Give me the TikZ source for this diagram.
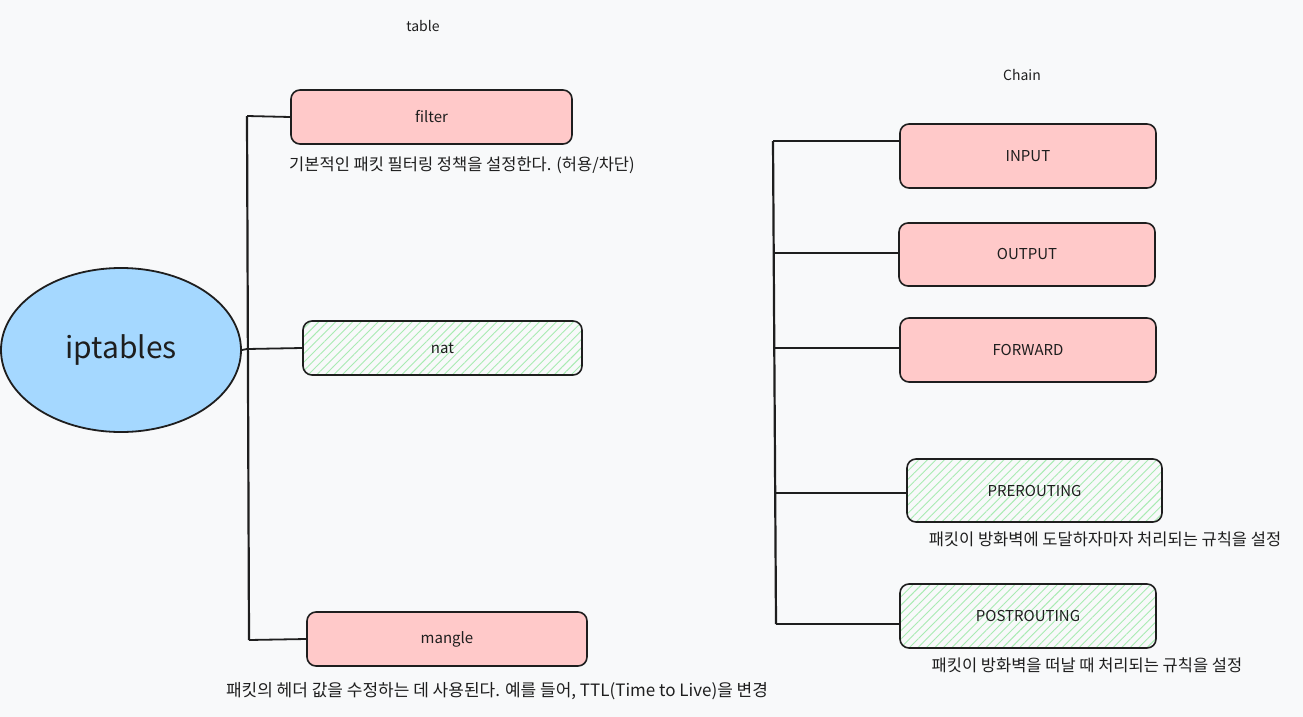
\documentclass[tikz,border=0pt]{standalone}
\usepackage{fontspec}
\setmainfont{Noto Sans CJK KR}
\newfontfamily\cjk{Noto Sans CJK KR}
\usetikzlibrary{patterns.meta,shapes.geometric}
\definecolor{bg}{HTML}{F8F9FA}
\definecolor{pinkfill}{HTML}{FFC9C9}
\definecolor{hatch}{HTML}{A8EBB2}
\definecolor{bluefill}{HTML}{A5D8FF}
\definecolor{ink}{HTML}{1E1E1E}
\begin{document}
\begin{tikzpicture}[x=1pt,y=-1pt,
  box/.style={draw=ink,line width=1.6pt,rounded corners=9pt,inner sep=0pt,font=\fontsize{15}{17}\selectfont,text=ink},
  pinkbox/.style={box,fill=pinkfill},
  hatchbox/.style={box,pattern={Lines[angle=45,distance=6pt,line width=0.9pt]},pattern color=hatch},
  desc/.style={font=\fontsize{16.5}{18}\selectfont,text=ink,inner sep=0pt},
  lbl/.style={font=\fontsize{14}{16}\selectfont,text=ink,inner sep=0pt},
  spine/.style={draw=ink,line width=2.2pt},
  branch/.style={draw=ink,line width=1.8pt}]
\fill[bg] (0,0) rectangle (1303,717);
\useasboundingbox (0,0) rectangle (1303,717);

% root
\node[ellipse,draw=ink,line width=1.8pt,fill=bluefill,minimum width=240pt,minimum height=164pt,font=\fontsize{30}{34}\selectfont,text=ink] (ipt) at (121,350) {iptables};

% labels
\node[lbl] (tablelbl) at (423,26) {table};
\node[lbl] (chainlbl) at (1022,75) {Chain};

% table boxes
\node[pinkbox,minimum width=281pt,minimum height=54pt] (filter) at (431.5,117) {filter};
\node[hatchbox,minimum width=279pt,minimum height=54pt] (nat) at (442.5,348) {nat};
\node[pinkbox,minimum width=280pt,minimum height=54pt] (mangle) at (447,639) {mangle};

\node[desc] (filterdesc) at (462,165) {기본적인 패킷 필터링 정책을 설정한다. (허용/차단)};
\node[desc,font=\fontsize{17}{19}\selectfont] (mangledesc) at (497,691) {패킷의 헤더 값을 수정하는 데 사용된다. 예를 들어, TTL(Time to Live)을 변경};

% chain boxes
\node[pinkbox,minimum width=256pt,minimum height=64pt] (input) at (1028,156) {INPUT};
\node[pinkbox,minimum width=256pt,minimum height=63pt] (output) at (1027,254.5) {OUTPUT};
\node[pinkbox,minimum width=256pt,minimum height=64pt] (forward) at (1028,350) {FORWARD};
\node[hatchbox,minimum width=255pt,minimum height=63pt] (prerouting) at (1034.5,490.5) {PREROUTING};
\node[hatchbox,minimum width=256pt,minimum height=64pt] (postrouting) at (1028,616) {POSTROUTING};

\node[desc] (predesc) at (1105,539) {패킷이 방화벽에 도달하자마자 처리되는 규칙을 설정};
\node[desc] (postdesc) at (1087,665) {패킷이 방화벽을 떠날 때 처리되는 규칙을 설정};

% left tree
\coordinate (lt) at (247,116);
\coordinate (lm) at (247,349);
\coordinate (lb) at (249,640);
\draw[spine] (lt) -- (lb);
\draw[branch] (lt) -- (filter.west);
\draw[branch] (lm) -- (nat.west);
\draw[branch] (lb) -- (mangle.west);
\draw[branch] (ipt.east) -- (lm);

% right tree
\coordinate (r1) at (773,141);
\coordinate (r2) at (773,253);
\coordinate (r3) at (774,348);
\coordinate (r4) at (775,493);
\coordinate (r5) at (776,624);
\draw[spine] (r1) -- (r5);
\draw[branch] (r1) -- (input.west |- r1);
\draw[branch] (r2) -- (output.west |- r2);
\draw[branch] (r3) -- (forward.west |- r3);
\draw[branch] (r4) -- (prerouting.west |- r4);
\draw[branch] (r5) -- (postrouting.west |- r5);
\end{tikzpicture}
\end{document}
